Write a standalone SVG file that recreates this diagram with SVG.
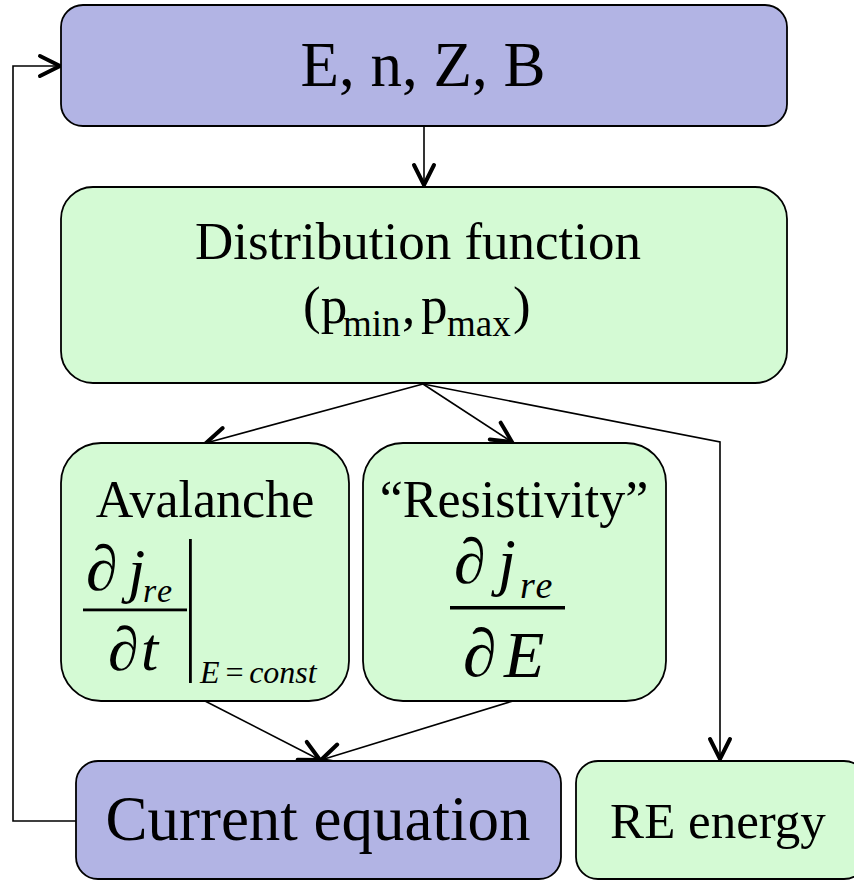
<svg xmlns="http://www.w3.org/2000/svg" width="854" height="880" viewBox="0 0 854 880">
<style>
.blue{fill:#b2b4e4;stroke:#000;stroke-width:1.8}
.green{fill:#d4fad4;stroke:#000;stroke-width:1.8}
.t{font-family:"Liberation Serif","Times New Roman",serif;fill:#000}
.i{font-style:italic}
.c{fill:none;stroke:#000;stroke-width:1.6}
</style>
<defs>
<marker id="ah" viewBox="-26 -14 30 28" markerWidth="30" markerHeight="28" refX="0" refY="0" orient="auto" markerUnits="userSpaceOnUse" overflow="visible">
<path d="M-20,-10 L0,0 L-20,10" fill="none" stroke="#000" stroke-width="4" stroke-linecap="round" stroke-linejoin="miter"/>
</marker>
</defs>
<rect width="854" height="880" fill="#fff"/>
<g id="connectors">
<path class="c" d="M424,126 L424,185" marker-end="url(#ah)"/>
<path class="c" d="M423,384 L206,443" marker-end="url(#ah)"/>
<path class="c" d="M423,384 L512,442" marker-end="url(#ah)"/>
<path class="c" d="M423,384 L720,442 L720,759" marker-end="url(#ah)"/>
<path class="c" d="M205,701 L320,760" marker-end="url(#ah)"/>
<path class="c" d="M513,701 L321,760" marker-end="url(#ah)"/>
<path class="c" d="M76,821 L13,821 L13,66 L60,66" marker-end="url(#ah)"/>
</g>
<g id="node-params">
<rect class="blue" x="61" y="5" width="726" height="121" rx="22"/>
<text class="t" x="423" y="86" font-size="63" text-anchor="middle">E, n, Z, B</text>
</g>
<g id="node-distribution">
<rect class="green" x="61" y="187" width="726" height="196" rx="32"/>
<text class="t" x="418" y="259" font-size="53" text-anchor="middle">Distribution function</text>
<text class="t" x="303" y="323" font-size="53">(p</text>
<text class="t" x="343" y="336" font-size="37">min</text>
<text class="t" x="402" y="323" font-size="53">,</text>
<text class="t" x="421" y="323" font-size="53">p</text>
<text class="t" x="447" y="336" font-size="37">max</text>
<text class="t" x="513" y="323" font-size="53">)</text>
</g>
<g id="node-avalanche">
<rect class="green" x="61" y="443" width="288" height="258" rx="40"/>
<text class="t" x="205" y="517" font-size="52" text-anchor="middle">Avalanche</text>
<text class="t i" x="86" y="590" font-size="64">∂</text>
<text class="t i" x="128" y="591" font-size="62">j</text>
<text class="t i" x="143" y="602" font-size="34" letter-spacing="2">re</text>
<rect x="83" y="608.5" width="104" height="2.8" fill="#000"/>
<text class="t i" x="108" y="670" font-size="62">∂</text>
<text class="t i" x="141" y="670" font-size="62">t</text>
<rect x="189" y="539" width="2.8" height="144" fill="#000"/>
<text class="t i" x="200" y="683" font-size="32">E<tspan dx="4">=</tspan><tspan dx="4">const</tspan></text>
</g>
<g id="node-resistivity">
<rect class="green" x="363" y="443" width="303" height="258" rx="40"/>
<text class="t" x="514" y="517" font-size="52" text-anchor="middle">“Resistivity”</text>
<text class="t i" x="454" y="583" font-size="64">∂</text>
<text class="t i" x="498" y="583" font-size="64">j</text>
<text class="t i" x="520" y="598" font-size="38" letter-spacing="2">re</text>
<rect x="450" y="606" width="115" height="3.5" fill="#000"/>
<text class="t i" x="463" y="676" font-size="68">∂</text>
<text class="t i" x="504" y="677" font-size="66">E</text>
</g>
<g id="node-current">
<rect class="blue" x="76" y="761" width="485" height="118" rx="22"/>
<text class="t" x="318" y="840" font-size="63" text-anchor="middle">Current equation</text>
</g>
<g id="node-re-energy">
<rect class="green" x="576" y="761" width="290" height="118" rx="22"/>
<text class="t" x="718" y="838" font-size="51" text-anchor="middle">RE energy</text>
</g>
</svg>
